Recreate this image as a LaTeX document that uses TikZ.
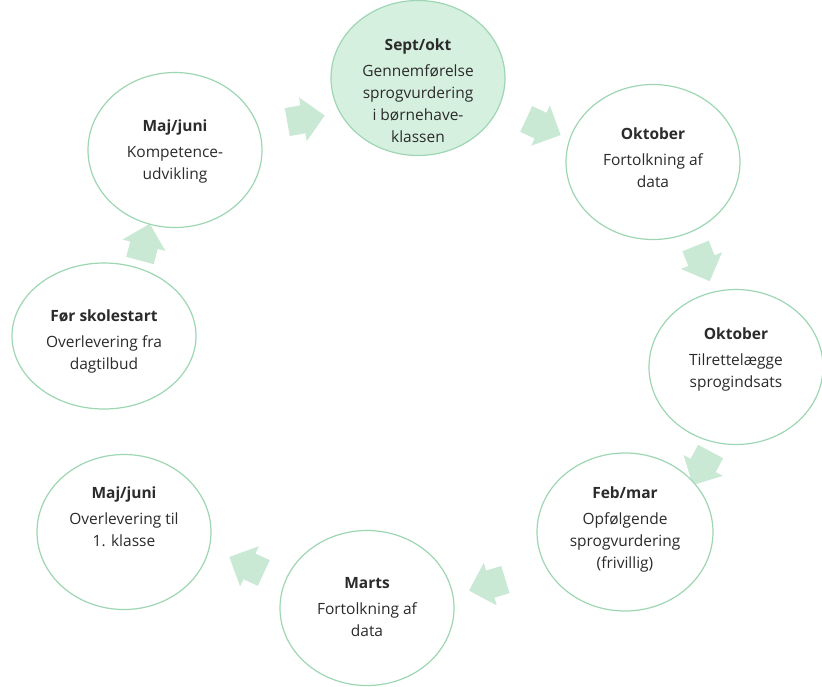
\documentclass[tikz,border=0pt]{standalone}
\usepackage{fontspec}
\setmainfont{Open Sans}
\usetikzlibrary{shapes.geometric,shapes.arrows}
\definecolor{rim}{HTML}{9ED6B4}
\definecolor{topfill}{HTML}{D6F0DF}
\definecolor{arrowfill}{HTML}{C9E9D5}
\definecolor{txt}{HTML}{2B2B2B}
\tikzset{
  phase/.style={ellipse, draw=rim, line width=1.2pt, fill=white, minimum width=174pt, minimum height=155pt, inner sep=0pt},
  phasetop/.style={phase, fill=topfill},
  lbl/.style={align=center, text=txt, font=\fontsize{15.5}{22}\selectfont},
  flow/.style={single arrow, fill=arrowfill, draw=none, inner sep=0pt, inner ysep=14pt, minimum height=38pt, single arrow head extend=8pt}
}
\newcommand{\ttl}[1]{\textbf{#1}\\[4pt]}
\begin{document}
\begin{tikzpicture}[x=1pt,y=-1pt]
\useasboundingbox (0,0) rectangle (822,686);
% arrows
\node[flow, rotate=10] (a1) at (299,120) {};
\node[flow, rotate=-25] (a2) at (537,124) {};
\node[flow, rotate=-68] (a3) at (700,257) {};
\node[flow, rotate=-118] (a4) at (705,462) {};
\node[flow, rotate=197] (a5) at (494,583) {};
\node[flow, rotate=155] (a6) at (253,568) {};
\node[flow, rotate=75] (a7) at (143,249) {};
% ellipses
\node[phasetop] (e1) at (418,78) {};
\node[phase] (e2) at (175,150) {};
\node[phase] (e3) at (653,162) {};
\node[phase, minimum width=184pt, minimum height=146pt] (e4) at (104,336) {};
\node[phase] (e5) at (736,367) {};
\node[phase] (e6) at (124,532) {};
\node[phase, minimum width=176pt, minimum height=158pt] (e7) at (625,532) {};
\node[phase] (e8) at (367,608) {};
% labels
\node[lbl] (t1) at (418,91) {\ttl{Sept/okt}Gennemførelse\\sprogvurdering\\i børnehave-\\klassen};
\node[lbl] (t2) at (175,151) {\ttl{Maj/juni}Kompetence-\\udvikling};
\node[lbl] (t3) at (653,158) {\ttl{Oktober}Fortolkning af\\data};
\node[lbl] (t4) at (104,341) {\ttl{Før skolestart}Overlevering fra\\dagtilbud};
\node[lbl] (t5) at (736,359) {\ttl{Oktober}Tilrettelægge\\sprogindsats};
\node[lbl] (t6) at (124,517) {\ttl{Maj/juni}Overlevering til\\1. klasse};
\node[lbl] (t7) at (625,529) {\ttl{Feb/mar}Opfølgende\\sprogvurdering\\(frivillig)};
\node[lbl] (t8) at (367,607) {\ttl{Marts}Fortolkning af\\data};
\end{tikzpicture}
\end{document}
